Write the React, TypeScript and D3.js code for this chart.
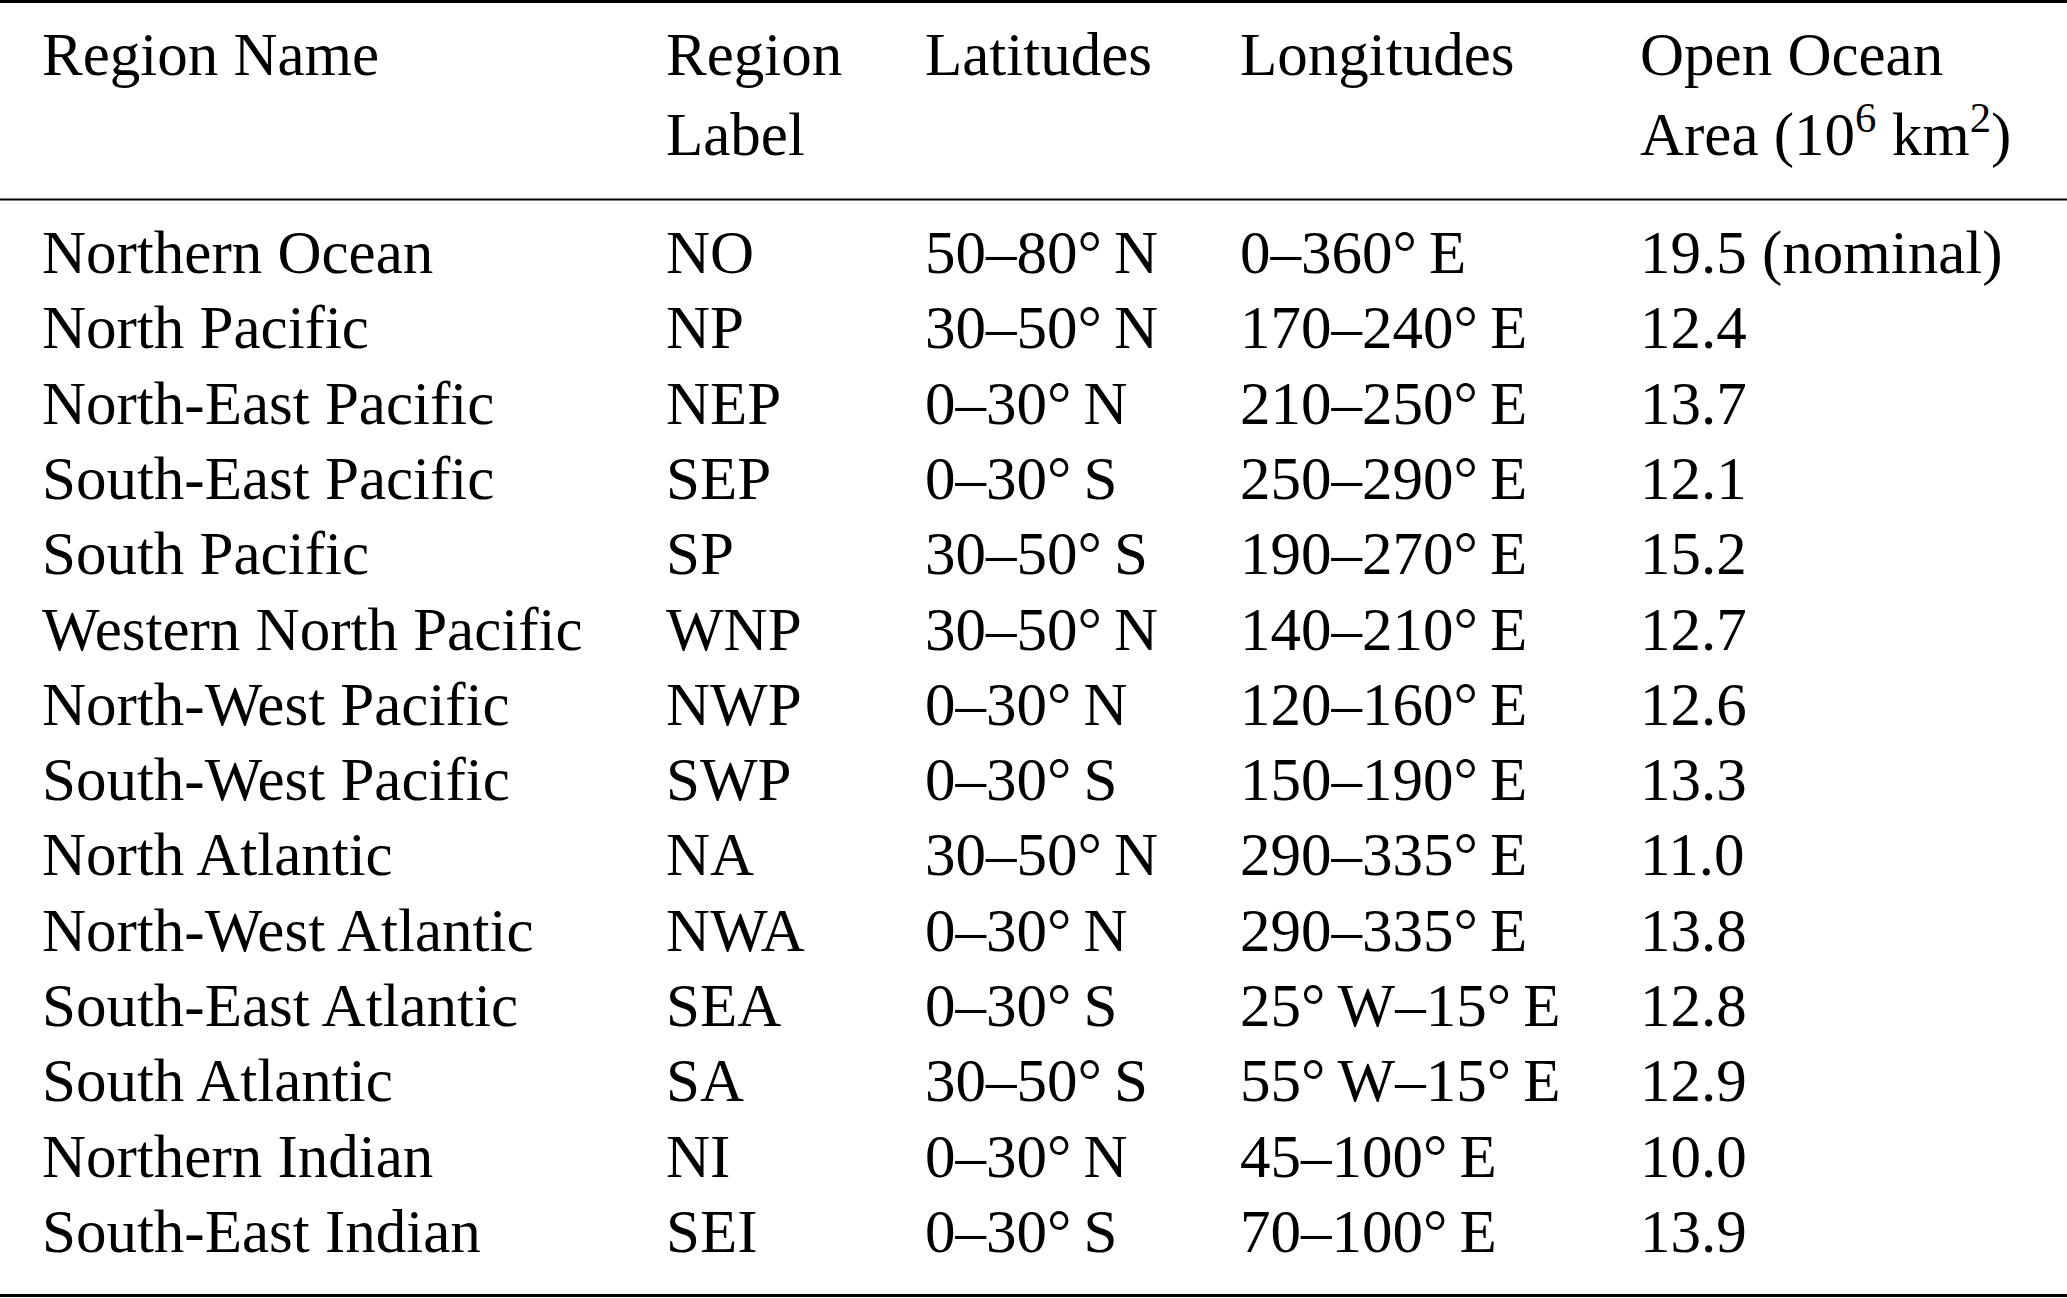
import React from "react";
import * as d3 from "d3";

const regionNames = [
  "Northern Ocean",
  "North Pacific",
  "North-East Pacific",
  "South-East Pacific",
  "South Pacific",
  "Western North Pacific",
  "North-West Pacific",
  "South-West Pacific",
  "North Atlantic",
  "North-West Atlantic",
  "South-East Atlantic",
  "South Atlantic",
  "Northern Indian",
  "South-East Indian",
];

const regionLabels = [
  "NO", "NP", "NEP", "SEP", "SP", "WNP", "NWP",
  "SWP", "NA", "NWA", "SEA", "SA", "NI", "SEI",
];

const latitudes = [
  "50–80° N", "30–50° N", "0–30° N", "0–30° S", "30–50° S", "30–50° N", "0–30° N",
  "0–30° S", "30–50° N", "0–30° N", "0–30° S", "30–50° S", "0–30° N", "0–30° S",
];

const longitudes = [
  "0–360° E", "170–240° E", "210–250° E", "250–290° E", "190–270° E", "140–210° E",
  "120–160° E", "150–190° E", "290–335° E", "290–335° E", "25° W–15° E",
  "55° W–15° E", "45–100° E", "70–100° E",
];

const areas = [
  "19.5 (nominal)", "12.4", "13.7", "12.1", "15.2", "12.7", "12.6",
  "13.3", "11.0", "13.8", "12.8", "12.9", "10.0", "13.9",
];

const W = 2067;
const H = 1298;
const FONT = "'Liberation Serif', 'Times New Roman', serif";
const FS = 61;

// thin space between degree sign and hemisphere letter
const fmt = (s: string) => s.replace(/° /g, "°\u2009");

export default function App() {
  const columns = [regionNames, regionLabels, latitudes, longitudes, areas];
  const colX = d3.scaleOrdinal<number, number>().domain([0, 1, 2, 3, 4]).range([42, 666, 925, 1240, 1640]);
  const rowY = d3.scaleLinear().domain([0, regionNames.length - 1]).range([273, 1252]);
  const headY = d3.scaleLinear().domain([0, 1]).range([75, 155]);

  const sup = -23;

  return (
    <svg
      width={W}
      height={H}
      style={{ position: "absolute", left: 0, top: 0, background: "#fff" }}
      fontFamily={FONT}
      fontSize={FS}
      fill="#000"
    >
      <rect width={W} height={H} fill="#fff" />
      {/* rules */}
      <line x1={0} x2={W} y1={1.5} y2={1.5} stroke="#000" strokeWidth={3} />
      <line x1={0} x2={W} y1={199.5} y2={199.5} stroke="#000" strokeWidth={2.2} />
      <line x1={0} x2={W} y1={1295.5} y2={1295.5} stroke="#000" strokeWidth={3} />

      {/* header */}
      <text x={colX(0)} y={headY(0)}>Region Name</text>
      <text x={colX(1)} y={headY(0)}>Region</text>
      <text x={colX(1)} y={headY(1)}>Label</text>
      <text x={colX(2)} y={headY(0)}>Latitudes</text>
      <text x={colX(3)} y={headY(0)}>Longitudes</text>
      <text x={colX(4)} y={headY(0)}>Open Ocean</text>
      <text x={colX(4)} y={headY(1)}>
        Area (10
        <tspan dy={sup} fontSize={FS * 0.7}>6</tspan>
        <tspan dy={-sup}>{" km"}</tspan>
        <tspan dy={sup} fontSize={FS * 0.7}>2</tspan>
        <tspan dy={-sup}>)</tspan>
      </text>

      {/* body */}
      {columns.map((col, c) =>
        col.map((v, r) => (
          <text key={`${c}-${r}`} x={colX(c)} y={rowY(r)}>
            {fmt(v)}
          </text>
        ))
      )}
    </svg>
  );
}
